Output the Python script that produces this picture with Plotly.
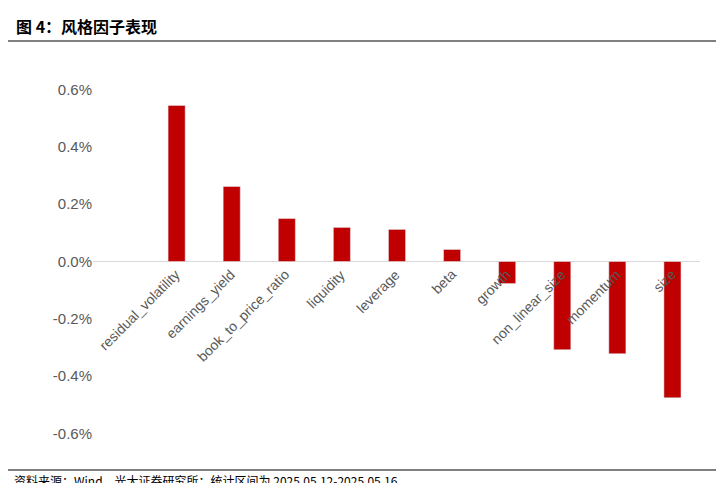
import plotly.graph_objects as go

factors = ["residual_volatility", "earnings_yield", "book_to_price_ratio", "liquidity", "leverage",
           "beta", "growth", "non_linear_size", "momentum", "size"]
values = [0.545, 0.262, 0.150, 0.119, 0.112, 0.042, -0.077, -0.308, -0.322, -0.476]
tick_vals = [-0.6, -0.4, -0.2, 0.0, 0.2, 0.4, 0.6]
tick_text = ["-0.6%", "-0.4%", "-0.2%", "0.0%", "0.2%", "0.4%", "0.6%"]

W, H = 724, 483
L, R, T, B = 85, 32, 53, 29
pw, ph = W - L - R, H - T - B

def px(x):
    return (x - L) / pw

def py(y):
    return (H - B - y) / ph

fig = go.Figure(go.Bar(x=factors, y=values, marker_color="#C00000", width=0.31))

for f in factors:
    fig.add_annotation(x=f, y=0, xref="x", yref="y", text=f, showarrow=False, textangle=-45,
                       xanchor="right", yanchor="top", xshift=9, yshift=-2,
                       font=dict(size=14, color="#595959", family="Liberation Sans"))

fig.add_annotation(x=px(6), y=py(4), xref="paper", yref="paper", xanchor="left", yanchor="top",
                   text="<b>图 4：风格因子表现</b>", showarrow=False,
                   font=dict(size=16, color="black", family="Noto Sans CJK SC"))
fig.add_annotation(x=px(4), y=py(462), xref="paper", yref="paper", xanchor="left", yanchor="top",
                   text="资料来源：Wind，光大证券研究所；统计区间为 2025.05.12-2025.05.16", showarrow=False,
                   font=dict(size=12, color="black", family="Noto Sans CJK SC"))
fig.add_shape(type="line", xref="paper", yref="paper", x0=px(0), x1=px(719), y0=py(33), y1=py(33),
              line=dict(color="black", width=1))
fig.add_shape(type="line", xref="paper", yref="paper", x0=px(0), x1=px(719), y0=py(462), y1=py(462),
              line=dict(color="black", width=1))

fig.update_layout(
    width=W, height=H, autosize=False, margin=dict(l=L, r=R, t=T, b=B, autoexpand=False),
    plot_bgcolor="white", paper_bgcolor="white", showlegend=False,
    xaxis=dict(showticklabels=False, showgrid=False, showline=False, ticks="", automargin=False),
    yaxis=dict(range=[-0.7, 0.7], tickvals=tick_vals, ticktext=tick_text, showgrid=False, automargin=False,
               zeroline=True, zerolinecolor="#D9D9D9", zerolinewidth=1,
               tickfont=dict(size=15, color="#595959", family="Liberation Sans")),
)
fig.write_html("out.html")
